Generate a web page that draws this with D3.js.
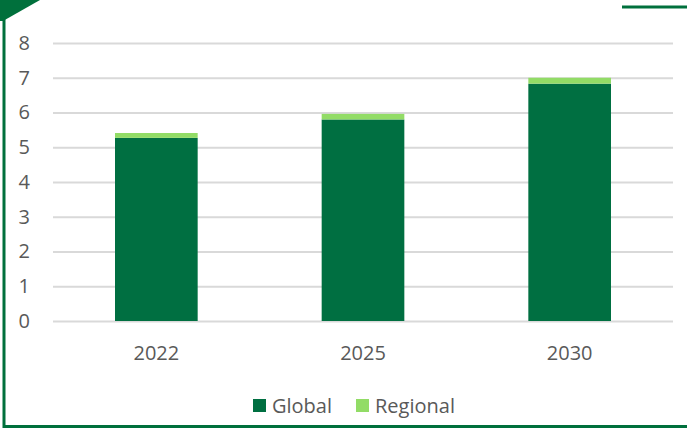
<!DOCTYPE html>
<html>
<head>
<meta charset="utf-8">
<script src="https://cdn.jsdelivr.net/npm/d3@7"></script>
<style>
  body { margin: 0; background: #fff; }
  text { font-family: "Open Sans", "Noto Sans", sans-serif; fill: #595959; }
</style>
</head>
<body>
<div id="chart"></div>
<script>
// chart data
var years = ["2022", "2025", "2030"];
var globalValues = [5.27, 5.80, 6.83];
var regionalValues = [0.14, 0.16, 0.17];
var yTicks = [0, 1, 2, 3, 4, 5, 6, 7, 8];
var seriesNames = ["Global", "Regional"];
var seriesColors = ["#006f41", "#92dc66"];

var svgWidth = 687, svgHeight = 428;
var margin = { top: 43, right: 14, bottom: 107, left: 53 };
var width = svgWidth - margin.left - margin.right;
var height = svgHeight - margin.top - margin.bottom;

var svg = d3.select("#chart").append("svg")
  .attr("width", svgWidth)
  .attr("height", svgHeight);

// green frame bits
var frame = "#00703c";
svg.append("path").attr("d", "M0,0 L40,0 L3,21 L0,21 Z").attr("fill", frame);
svg.append("line").attr("x1", 4).attr("y1", 0).attr("x2", 4).attr("y2", 428)
  .attr("stroke", frame).attr("stroke-width", 3);
svg.append("line").attr("x1", 4).attr("y1", 426.5).attr("x2", 687).attr("y2", 426.5)
  .attr("stroke", frame).attr("stroke-width", 3);
svg.append("line").attr("x1", 622).attr("y1", 7).attr("x2", 687).attr("y2", 7)
  .attr("stroke", frame).attr("stroke-width", 3);

var chartGroup = svg.append("g")
  .attr("transform", `translate(${margin.left}, ${margin.top})`);

var x = d3.scaleBand().domain(years).range([0, width]).padding(0);
var y = d3.scaleLinear().domain([0, 8]).range([height, 0]);

// gridlines
chartGroup.append("g")
  .call(d3.axisLeft(y).tickValues(yTicks).tickSize(-width).tickFormat(""))
  .call(g => g.select(".domain").remove())
  .call(g => g.selectAll("line").attr("stroke", "#d9d9d9").attr("stroke-width", 2));

// y labels
chartGroup.append("g")
  .call(d3.axisLeft(y).tickValues(yTicks).tickSize(0).tickPadding(23))
  .call(g => g.select(".domain").remove())
  .call(g => g.selectAll("text").attr("font-size", 20).attr("fill", "#595959")
    .style("font-family", "'Open Sans', sans-serif"));

// x labels
chartGroup.append("g")
  .attr("transform", `translate(0, ${height})`)
  .call(d3.axisBottom(x).tickSize(0).tickPadding(25))
  .call(g => g.select(".domain").remove())
  .call(g => g.selectAll("text").attr("font-size", 20).attr("fill", "#595959")
    .style("font-family", "'Open Sans', sans-serif"));

// stacked bars
var rows = years.map((yr, i) => ({ year: yr, Global: globalValues[i], Regional: regionalValues[i] }));
var stack = d3.stack().keys(seriesNames)(rows);
var barW = x.bandwidth() * 0.4;

chartGroup.selectAll(".series")
  .data(stack)
  .enter().append("g")
  .attr("fill", (d, i) => seriesColors[i])
  .selectAll("rect")
  .data(d => d)
  .enter().append("rect")
  .attr("x", d => x(d.data.year) + (x.bandwidth() - barW) / 2)
  .attr("width", barW)
  .attr("y", d => y(d[1]))
  .attr("height", d => y(d[0]) - y(d[1]));

// legend
var legend = svg.append("g").attr("transform", "translate(253, 399)");
var legendX = [0, 103];
seriesNames.forEach(function(name, i) {
  legend.append("rect").attr("x", legendX[i]).attr("y", 0)
    .attr("width", 13).attr("height", 13).attr("fill", seriesColors[i]);
  legend.append("text").attr("x", legendX[i] + 19).attr("y", 14)
    .attr("font-size", 20).text(name);
});
</script>
</body>
</html>
